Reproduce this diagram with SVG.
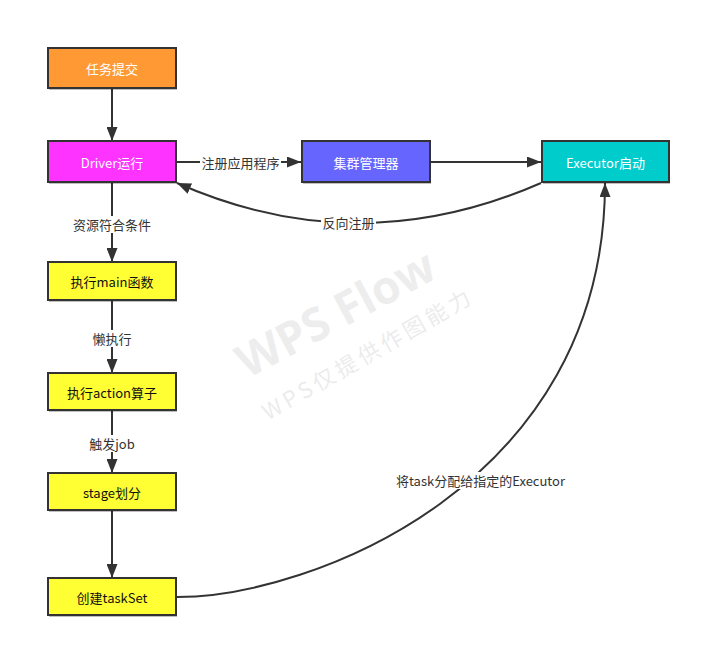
<svg xmlns="http://www.w3.org/2000/svg" width="701" height="647" viewBox="0 0 701 647">
<style>
text{font-family:"Noto Sans CJK SC","Open Sans",sans-serif;font-size:13px;text-anchor:middle;dominant-baseline:central}
.box{stroke:#333;stroke-width:2}
.sh{fill:#000;opacity:.25}
.wt{fill:#fff}
.bk{fill:#111}
.edge{fill:none;stroke:#333;stroke-width:2}
.lbl{fill:#333}
.lbg{fill:#fff}
.wm1{font-family:"Open Sans","Noto Sans CJK SC",sans-serif;font-size:46px;font-weight:bold;fill:#000;opacity:.065}
.wm2{font-family:"Noto Sans CJK SC",sans-serif;font-size:22px;letter-spacing:4px;fill:#000;opacity:.075}
</style>
<defs>
<marker id="arr" viewBox="0 0 14 11" refX="14" refY="5.5" markerWidth="14" markerHeight="11" markerUnits="userSpaceOnUse" orient="auto">
<path d="M0,0 L14,5.5 L0,11 Z" fill="#333"/>
</marker>
</defs>
<rect width="701" height="647" fill="#fff"/>
<g id="watermark">
<text class="wm1" transform="translate(335,312) rotate(-28)">WPS Flow</text>
<text class="wm2" transform="translate(367,352) rotate(-30)">WPS仅提供作图能力</text>
</g>
<g id="connectors">
<line class="edge" x1="112" y1="89" x2="112" y2="141" marker-end="url(#arr)"/>
<line class="edge" x1="177" y1="162" x2="301" y2="162" marker-end="url(#arr)"/>
<line class="edge" x1="431" y1="162" x2="541" y2="162" marker-end="url(#arr)"/>
<path class="edge" d="M541,183 Q358.5,263 177,183" marker-end="url(#arr)"/>
<line class="edge" x1="112" y1="183" x2="112" y2="262" marker-end="url(#arr)"/>
<line class="edge" x1="112" y1="301" x2="112" y2="373" marker-end="url(#arr)"/>
<line class="edge" x1="112" y1="411" x2="112" y2="473" marker-end="url(#arr)"/>
<line class="edge" x1="112" y1="511" x2="112" y2="578" marker-end="url(#arr)"/>
<path class="edge" d="M177,597 C310,597 605,485 605,183" marker-end="url(#arr)"/>
<rect class="lbg" x="200" y="154" width="81" height="17"/>
<text class="lbl" x="240.5" y="162.5">注册应用程序</text>
<rect class="lbg" x="321" y="214" width="55" height="17"/>
<text class="lbl" x="348.5" y="222.5">反向注册</text>
<rect class="lbg" x="72" y="216" width="80" height="17"/>
<text class="lbl" x="112" y="224.5">资源符合条件</text>
<rect class="lbg" x="92" y="330" width="40" height="17"/>
<text class="lbl" x="112" y="338.5">懒执行</text>
<rect class="lbg" x="88" y="435" width="48" height="17"/>
<text class="lbl" x="112" y="443.5">触发job</text>
<rect class="lbg" x="393" y="472" width="175" height="17"/>
<text class="lbl" x="480.5" y="480.5">将task分配给指定的Executor</text>
</g>
<g id="n1">
<rect class="sh" x="49" y="50" width="128" height="40"/>
<rect class="box" x="48" y="48" width="128" height="40" fill="#FF9933"/>
<text class="wt" x="112" y="68.5">任务提交</text>
</g>
<g id="n2">
<rect class="sh" x="49" y="143" width="128" height="41"/>
<rect class="box" x="48" y="141" width="128" height="41" fill="#FF33FF"/>
<text class="wt" x="112" y="162">Driver运行</text>
</g>
<g id="n3">
<rect class="sh" x="303" y="143" width="128" height="41"/>
<rect class="box" x="302" y="141" width="128" height="41" fill="#6666FF"/>
<text class="wt" x="366" y="162">集群管理器</text>
</g>
<g id="n4">
<rect class="sh" x="543" y="143" width="127" height="41"/>
<rect class="box" x="542" y="141" width="127" height="41" fill="#00CCCC"/>
<text class="wt" x="605.5" y="162">Executor启动</text>
</g>
<g id="n5">
<rect class="sh" x="49" y="264" width="128" height="38"/>
<rect class="box" x="48" y="262" width="128" height="38" fill="#FFFF33"/>
<text class="bk" x="112" y="281.5">执行main函数</text>
</g>
<g id="n6">
<rect class="sh" x="49" y="375" width="128" height="37"/>
<rect class="box" x="48" y="373" width="128" height="37" fill="#FFFF33"/>
<text class="bk" x="112" y="392">执行action算子</text>
</g>
<g id="n7">
<rect class="sh" x="49" y="475" width="128" height="37"/>
<rect class="box" x="48" y="473" width="128" height="37" fill="#FFFF33"/>
<text class="bk" x="112" y="492">stage划分</text>
</g>
<g id="n8">
<rect class="sh" x="49" y="580" width="128" height="37"/>
<rect class="box" x="48" y="578" width="128" height="37" fill="#FFFF33"/>
<text class="bk" x="112" y="597">创建taskSet</text>
</g>
</svg>
